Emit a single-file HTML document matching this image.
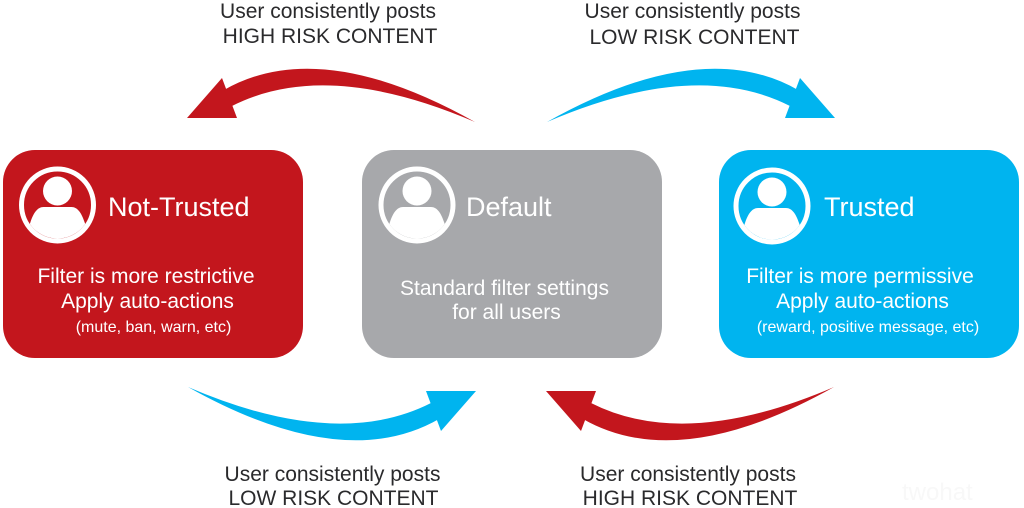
<!DOCTYPE html>
<html>
<head>
<meta charset="utf-8">
<style>
html,body{margin:0;padding:0;background:#fff;}
body{width:1024px;height:508px;overflow:hidden;}
svg{display:block;}
text{font-family:"Liberation Sans",Arial,sans-serif;}
</style>
</head>
<body>
<svg width="1024" height="508" viewBox="0 0 1024 508" xmlns="http://www.w3.org/2000/svg">
  <defs>
    <g id="arrow">
      <polygon points="187,118 222,78 237,118"/>
      <path d="M224,90 Q320,35 475,122 Q326.5,58 232,106 Z"/>
    </g>
    <clipPath id="inner"><circle cx="0" cy="0" r="33.5"/></clipPath>
    <g id="icon">
      <circle cx="0" cy="0" r="36" fill="none" stroke="#fff" stroke-width="5"/>
      <g clip-path="url(#inner)">
        <path d="M-14,2 C-20,2 -24,8 -27,17 L-38,48 L38,48 L27,17 C24,8 20,2 14,2 Z" fill="#fff"/>
      </g>
      <circle cx="0" cy="-14" r="14.5" fill="#fff"/>
    </g>
  </defs>

  <!-- Arrows -->
  <use href="#arrow" fill="#C3161D"/>
  <use href="#arrow" fill="#00B4EF" transform="matrix(-1,0,0,1,1022,0)"/>
  <use href="#arrow" fill="#00B4EF" transform="matrix(-1,0,0,-1,663,509)"/>
  <use href="#arrow" fill="#C3161D" transform="matrix(1,0,0,-1,359,509)"/>

  <!-- Boxes -->
  <rect x="3" y="150" width="300" height="208" rx="32" ry="32" fill="#C3161D"/>
  <rect x="362" y="150" width="300" height="208" rx="32" ry="32" fill="#A7A8AB"/>
  <rect x="719" y="150" width="300" height="208" rx="32" ry="32" fill="#00B4EF"/>

  <!-- Icons -->
  <g transform="translate(57.5,205)"><use href="#icon"/></g>
  <g transform="translate(417,205)"><use href="#icon"/></g>
  <g transform="translate(772,206)"><use href="#icon"/></g>

  <!-- Box titles -->
  <g fill="#fff" font-size="27">
    <text x="108" y="216">Not-Trusted</text>
    <text x="466" y="216">Default</text>
    <text x="824" y="216">Trusted</text>
  </g>

  <!-- Box body text -->
  <g fill="#fff" font-size="21" text-anchor="middle">
    <text x="146" y="283">Filter is more restrictive</text>
    <text x="147.5" y="308">Apply auto-actions</text>
    <text x="504.5" y="295">Standard filter settings</text>
    <text x="506.5" y="319">for all users</text>
    <text x="860" y="283">Filter is more permissive</text>
    <text x="862.5" y="308">Apply auto-actions</text>
  </g>
  <g fill="#fff" font-size="16" text-anchor="middle">
    <text x="153.5" y="332">(mute, ban, warn, etc)</text>
    <text x="868" y="332">(reward, positive message, etc)</text>
  </g>

  <!-- Connector labels -->
  <g fill="#2a2a2c" font-size="21" text-anchor="middle">
    <text x="328" y="18">User consistently posts</text>
    <text x="330" y="43">HIGH RISK CONTENT</text>
    <text x="692.5" y="18">User consistently posts</text>
    <text x="694.5" y="44">LOW RISK CONTENT</text>
    <text x="332.5" y="481">User consistently posts</text>
    <text x="333.5" y="505">LOW RISK CONTENT</text>
    <text x="688" y="481">User consistently posts</text>
    <text x="690" y="505">HIGH RISK CONTENT</text>
  </g>

  <!-- faint watermark -->
  <text x="902" y="500" font-size="24" fill="#f8f8f8">twohat</text>
</svg>
</body>
</html>
